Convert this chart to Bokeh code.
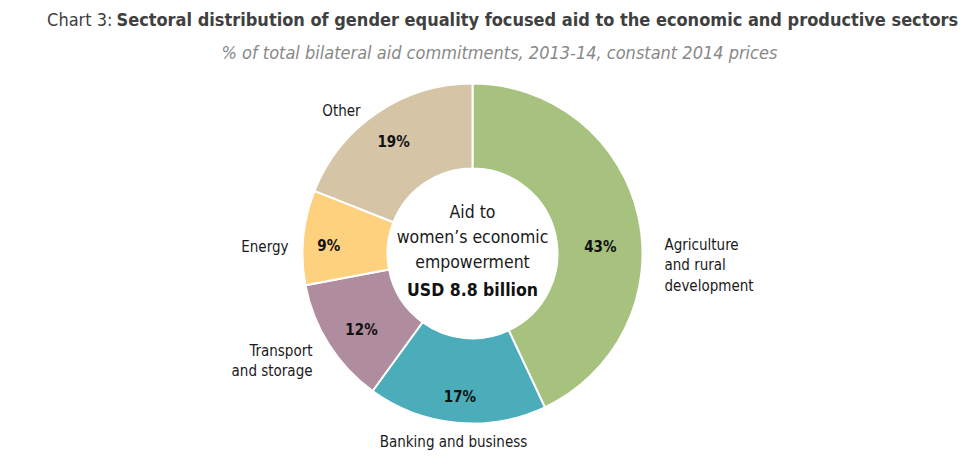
import math
from bokeh.plotting import figure
from bokeh.models import Range1d, ColumnDataSource
from bokeh.core.properties import value
from bokeh.embed import file_html
from bokeh.resources import INLINE

# ---- data ----
sectors = ["Agriculture and rural development", "Banking and business",
           "Transport and storage", "Energy", "Other"]
shares = [43, 17, 12, 9, 19]
pct_labels = ["43%", "17%", "12%", "9%", "19%"]
colors = ["#A6C27E", "#4AADB9", "#AF8D9E", "#FED17E", "#D5C4A6"]
label_lines = [["Agriculture", "and rural", "development"],
               ["Banking and business"],
               ["Transport", "and storage"],
               ["Energy"],
               ["Other"]]

W, H = 961, 460
FONT = "DejaVu Sans Condensed, sans-serif"

def X(px):  # image x -> data x
    return px

def Y(py):  # image y -> data y
    return H - py

p = figure(width=W, height=H, output_backend="svg", toolbar_location=None,
           x_range=Range1d(0, W), y_range=Range1d(0, H), min_border=0)
p.axis.visible = False
p.grid.visible = False
p.outline_line_color = None
p.background_fill_color = "white"

cx, cy = X(472), Y(253)
r_out, r_in = 170, 85

total = sum(shares)
starts, ends, mids = [], [], []
acc = 0.0
for s in shares:
    a0 = math.pi / 2 - 2 * math.pi * acc / total
    acc += s
    a1 = math.pi / 2 - 2 * math.pi * acc / total
    starts.append(a0)
    ends.append(a1)
    mids.append((a0 + a1) / 2)

src = ColumnDataSource(dict(start=starts, end=ends, color=colors))
p.annular_wedge(x=cx, y=cy, inner_radius=r_in, outer_radius=r_out,
                start_angle="start", end_angle="end", direction="clock",
                fill_color="color", line_color="white", line_width=2, source=src)

# percentage labels
lab_r = [128, 144, 135, 144, 137]
lab_da = [-9.5, 0.4, 2.3, 2.4, 1.0]  # degrees tweak
for m, r, da, t in zip(mids, lab_r, lab_da, pct_labels):
    a = m + math.radians(da)
    p.text(x=[cx + r * math.cos(a)], y=[cy + r * math.sin(a)], text=[t],
           text_font=value(FONT), text_font_style="bold", text_font_size="15px",
           text_color="#111111", text_align="center", text_baseline="middle")

# category labels
def lines(txts, px, py, align, lh=20.5):
    for i, t in enumerate(txts):
        p.text(x=[X(px)], y=[Y(py + i * lh)], text=[t], text_font=value(FONT),
               text_font_size="15px", text_color="#1a1a1a", text_align=align,
               text_baseline="middle")

lines(label_lines[0], 664, 244, "left")
lines(label_lines[1], 453, 441, "center")
lines(label_lines[2], 312, 350, "right")
lines(label_lines[3], 288, 246, "right")
lines(label_lines[4], 341, 110, "center")

# centre text
for t, py in [("Aid to", 211), ("women\u2019s economic", 236), ("empowerment", 261)]:
    p.text(x=[cx], y=[Y(py)], text=[t], text_font=value(FONT), text_font_size="17.5px",
           text_color="#1a1a1a", text_align="center", text_baseline="middle")
p.text(x=[cx], y=[Y(289)], text=["USD 8.8 billion"], text_font=value(FONT),
       text_font_size="17.5px", text_font_style="bold", text_color="#111111",
       text_align="center", text_baseline="middle")

# title
p.text(x=[X(112)], y=[Y(19)], text=["Chart 3:"], text_font=value(FONT),
       text_font_size="18px", text_color="#404040", text_align="right",
       text_baseline="middle")
p.text(x=[X(116)], y=[Y(19)],
       text=["Sectoral distribution of gender equality focused aid to the economic and productive sectors"],
       text_font=value(FONT), text_font_size="18px", text_font_style="bold",
       text_color="#404040", text_align="left", text_baseline="middle")
p.text(x=[X(499)], y=[Y(52)],
       text=["% of total bilateral aid commitments, 2013-14, constant 2014 prices"],
       text_font=value(FONT), text_font_size="18px", text_font_style="italic",
       text_color="#888888", text_align="center", text_baseline="middle")

open("out.html", "w").write(file_html(p, INLINE))
